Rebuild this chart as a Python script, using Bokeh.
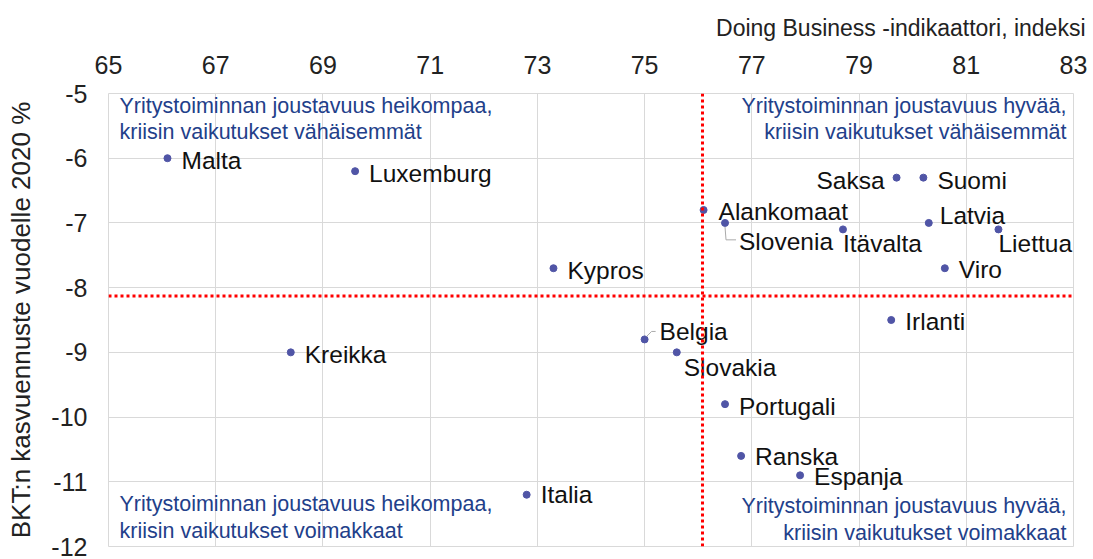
from bokeh.plotting import figure
from bokeh.models import ColumnDataSource, FixedTicker, Span, Label, PrintfTickFormatter
from bokeh.core.properties import value
from bokeh.embed import file_html
from bokeh.resources import INLINE

# ---- data ----
countries = ["Malta", "Luxemburg", "Kypros", "Kreikka", "Italia", "Belgia", "Slovakia",
             "Portugali", "Ranska", "Espanja", "Irlanti", "Alankomaat", "Slovenia",
             "Itävalta", "Saksa", "Suomi", "Latvia", "Liettua", "Viro"]
doing_business = [66.1, 69.6, 73.3, 68.4, 72.8, 75.0, 75.6,
                  76.5, 76.8, 77.9, 79.6, 76.1, 76.5,
                  78.7, 79.7, 80.2, 80.3, 81.6, 80.6]
gdp_growth_2020 = [-6.0, -6.2, -7.7, -9.0, -11.2, -8.8, -9.0,
                   -9.8, -10.6, -10.9, -8.5, -6.8, -7.0,
                   -7.1, -6.3, -6.3, -7.0, -7.1, -7.7]
db_mean = 76.08
gdp_mean = -8.13
x_ticks = [65, 67, 69, 71, 73, 75, 77, 79, 81, 83]
y_ticks = [-12, -11, -10, -9, -8, -7, -6, -5]

# label placement (pixels, dy positive = down)
lab_dx = [14, 14, 14, 14, 14, 15, 7, 14, 14, 14, 14, 15, 14, 0, -12, 14, 11, 0, 14]
lab_dy = [2, 2, 2, 2, 0, -8, 15, 2, 1, 1, 1, 2, 19, 14, 3, 3, -7, 14, 1]
lab_align = ["left"] * 14 + ["right"] + ["left"] * 4

FONT = "Liberation Sans"
W, H = 1093, 559
BL, BR, BT, BB = 108, 20, 91, 13
px_x = (W - BL - BR) / (x_ticks[-1] - x_ticks[0])
px_y = (H - BT - BB) / (y_ticks[-1] - y_ticks[0])

p = figure(width=W, height=H, x_range=(x_ticks[0], x_ticks[-1]), y_range=(y_ticks[0], y_ticks[-1]),
           x_axis_location="above", output_backend="svg", toolbar_location=None,
           min_border_left=BL, min_border_right=BR, min_border_top=BT, min_border_bottom=BB)
p.outline_line_color = "#d9d9d9"
p.background_fill_color = "white"
p.border_fill_color = "white"

p.title.text = "Doing Business -indikaattori, indeksi"
p.title.align = "right"
p.title.text_font = FONT
p.title.text_font_size = "23px"
p.title.text_font_style = "normal"
p.title.text_color = "#222222"
p.title.offset = -12
p.title.standoff = 24

p.xaxis.ticker = FixedTicker(ticks=x_ticks)
p.yaxis.ticker = FixedTicker(ticks=y_ticks)
p.xaxis.formatter = PrintfTickFormatter(format="%d")
p.yaxis.formatter = PrintfTickFormatter(format="%d")
for ax in (p.xaxis, p.yaxis):
    ax.axis_line_color = None
    ax.major_tick_line_color = None
    ax.minor_tick_line_color = None
    ax.major_label_text_font = FONT
    ax.major_label_text_font_size = "25px"
    ax.major_label_text_color = "#222222"
p.xaxis.major_label_standoff = 14
p.yaxis.major_label_standoff = 15
p.yaxis.axis_label = "BKT:n kasvuennuste vuodelle 2020 %"
p.yaxis.axis_label_text_font = FONT
p.yaxis.axis_label_text_font_size = "26px"
p.yaxis.axis_label_text_font_style = "normal"
p.yaxis.axis_label_text_color = "#222222"
p.yaxis.axis_label_standoff = 12

p.xgrid.grid_line_color = "#d9d9d9"
p.ygrid.grid_line_color = "#d9d9d9"

# mean lines
p.add_layout(Span(location=db_mean, dimension="height", line_color="#ff0000",
                  line_width=3, line_dash="3 3"))
p.add_layout(Span(location=gdp_mean, dimension="width", line_color="#ff0000",
                  line_width=3, line_dash="3 3"))

src = ColumnDataSource(dict(x=doing_business, y=gdp_growth_2020, name=countries,
                            dx=lab_dx, dy=lab_dy, align=lab_align))
p.scatter("x", "y", source=src, size=7, color="#5055a6")
p.text("x", "y", text="name", source=src, x_offset="dx", y_offset="dy",
       text_align="align", text_baseline="middle", text_font=value(FONT),
       text_font_size="24.5px", text_color="#111111")

# leader lines (Belgia, Slovenia)
bi = countries.index("Belgia")
bx, by = doing_business[bi], gdp_growth_2020[bi]
p.line([bx + 2 / px_x, bx + 7 / px_x, bx + 11 / px_x],
       [by + 3 / px_y, by + 8 / px_y, by + 8 / px_y], line_color="#aaaaaa", line_width=1)
si = countries.index("Slovenia")
sx, sy = doing_business[si], gdp_growth_2020[si]
p.line([sx, sx + 1 / px_x, sx + 11 / px_x],
       [sy - 4 / px_y, sy - 17 / px_y, sy - 17 / px_y], line_color="#aaaaaa", line_width=1)

# quadrant notes
NAVY = "#22408a"
qkw = dict(text_font=FONT, text_font_size="21.5px", text_color=NAVY, text_line_height=1.12)
p.add_layout(Label(x=x_ticks[0] + 11 / px_x, y=y_ticks[-1], text_align="left",
                   text_baseline="top",
                   text="Yritystoiminnan joustavuus heikompaa,\nkriisin vaikutukset vähäisemmät", **qkw))
p.add_layout(Label(x=x_ticks[-1] - 7 / px_x, y=y_ticks[-1], text_align="right",
                   text_baseline="top",
                   text="Yritystoiminnan joustavuus hyvää,\nkriisin vaikutukset vähäisemmät", **qkw))
p.add_layout(Label(x=x_ticks[0] + 11 / px_x, y=y_ticks[0] + 4 / px_y, text_align="left",
                   text_baseline="bottom",
                   text="Yritystoiminnan joustavuus heikompaa,\nkriisin vaikutukset voimakkaat", **qkw))
p.add_layout(Label(x=x_ticks[-1] - 7 / px_x, y=y_ticks[0] + 2 / px_y, text_align="right",
                   text_baseline="bottom",
                   text="Yritystoiminnan joustavuus hyvää,\nkriisin vaikutukset voimakkaat", **qkw))

open("out.html", "w").write(file_html(p, INLINE))
